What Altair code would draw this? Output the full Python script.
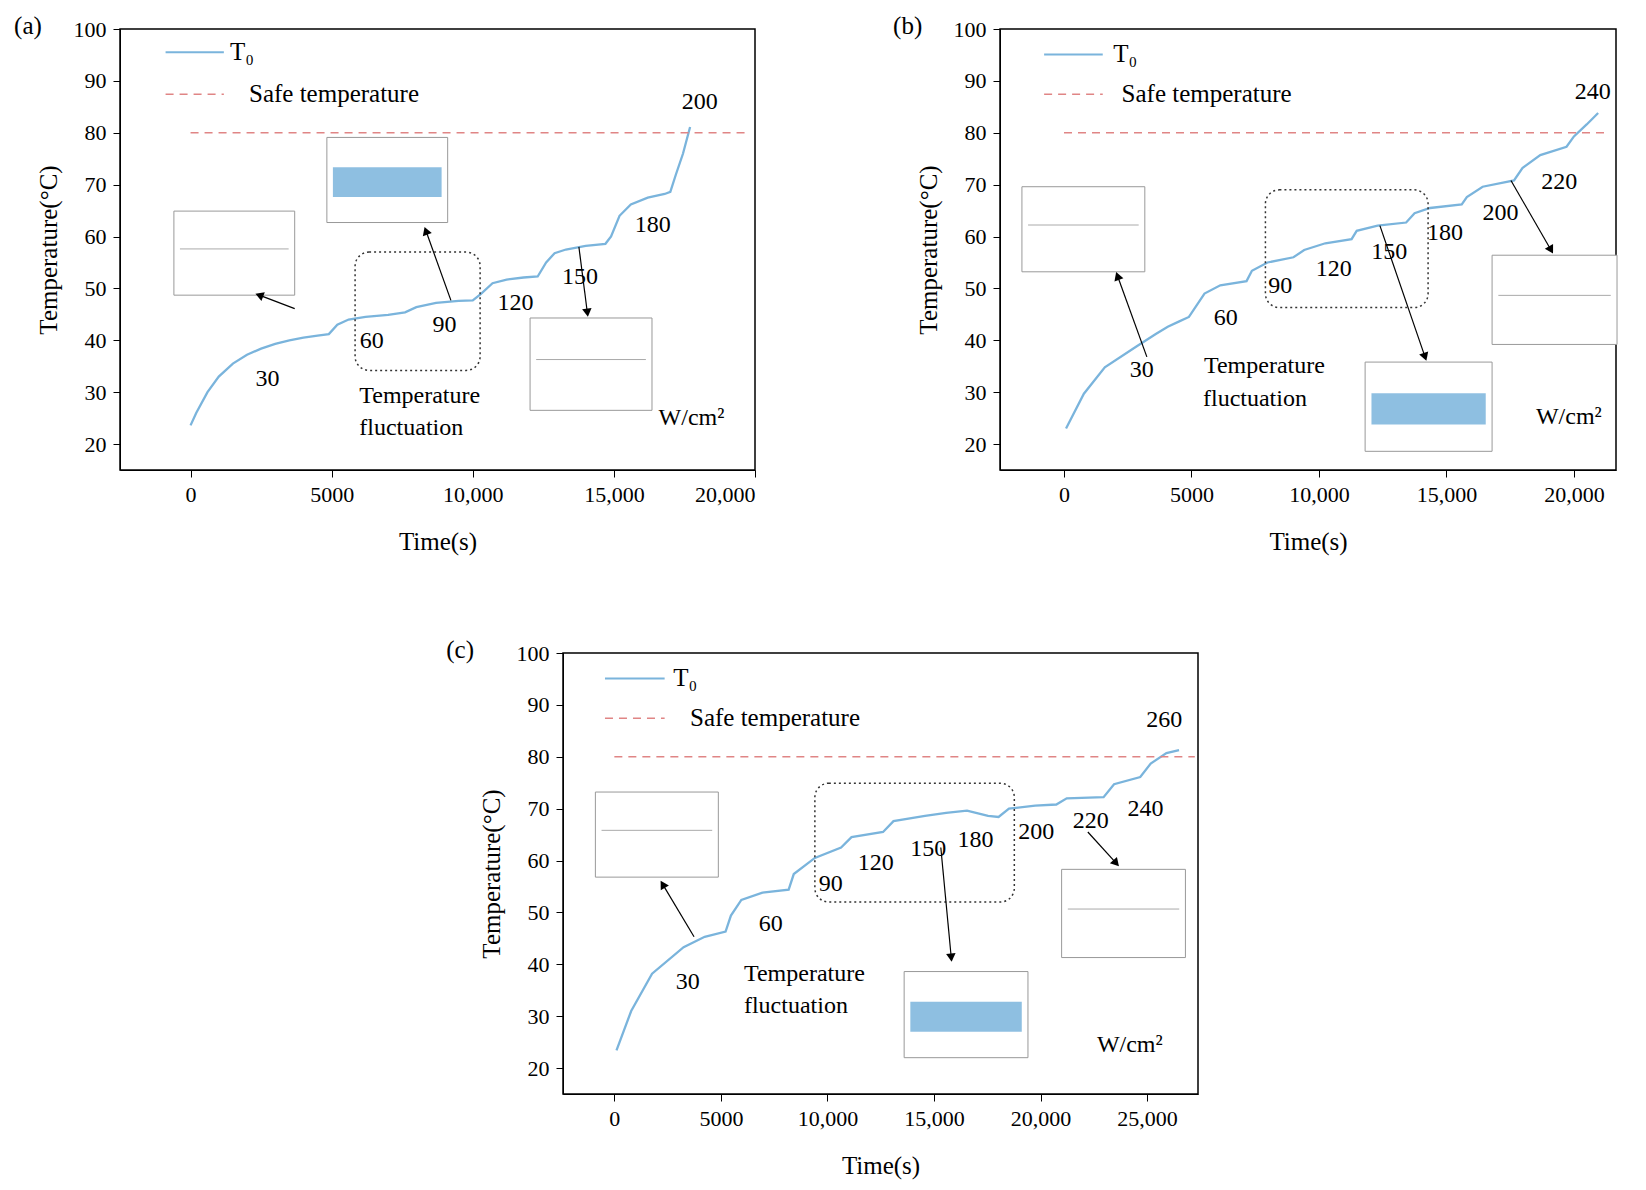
import math
import pandas as pd
import altair as alt

FONT = "Liberation Serif"
LINE = "#7ab4dc"
SAFE = "#e08585"

# ---------------- panel (a) ----------------
a_t = [0, 200, 600, 1000, 1500, 2000, 2500, 3000, 3500, 4000, 4500, 4900, 5200, 5600, 6200, 7000,
       7600, 8000, 8700, 9500, 10000, 10300, 10700, 11200, 11800, 12300, 12600, 12900, 13300, 14000,
       14700, 14900, 15200, 15600, 16200, 16800, 17000, 17200, 17450, 17700]
a_T = [23.6, 26, 30, 33, 35.5, 37.2, 38.4, 39.3, 40, 40.5, 40.9, 41.2, 43, 44, 44.5, 44.9,
       45.4, 46.4, 47.2, 47.6, 47.7, 49, 51, 51.7, 52.1, 52.3, 55, 56.8, 57.5, 58.2,
       58.6, 60, 64, 66.2, 67.5, 68.2, 68.6, 72, 76, 81.1]
a_labels = ["30", "60", "90", "120", "150", "180", "200", "W/cm²", "Temperature", "fluctuation"]
a_lab_t = [2730, 6420, 9000, 11510, 13800, 16380, 18040, 17750, 8120, 7820]
a_lab_T = [32.5, 39.8, 42.9, 47.1, 52.2, 62.3, 86, 25, 29.3, 23]
a_box = [5830, 10260, 34.2, 57.0]
a_insets = [[-590, 3690, 48.7, 64.9, 0], [4830, 9110, 62.7, 79.1, 1], [12030, 16350, 26.5, 44.3, 0]]
a_arrows = [[3690, 46.1, 2435, 48.7], [9225, 47.7, 8340, 61.1], [13760, 58, 14060, 45.3]]
a_legend = [-885, 1180, 95.5, 87.4, 1400, 2070]

# ---------------- panel (b) ----------------
b_t = [80, 780, 1600, 2840, 3600, 4070, 4500, 4900, 5510, 6130, 7160, 7370, 7980, 9000, 9420,
       10250, 11280, 11480, 12300, 13420, 13750, 14360, 15600, 15800, 16420, 17650, 17980, 18680,
       19710, 20000, 20500, 20950]
b_T = [23, 29.7, 34.8, 38.8, 41.2, 42.6, 43.6, 44.5, 49, 50.6, 51.4, 53.4, 55, 56, 57.4,
       58.7, 59.5, 61.1, 62.1, 62.7, 64.5, 65.5, 66.2, 67.6, 69.6, 70.8, 73.2, 75.7,
       77.3, 79.3, 81.6, 83.8]
b_labels = ["30", "60", "90", "120", "150", "180", "200", "220", "240", "W/cm²", "Temperature", "fluctuation"]
b_lab_t = [3045, 6340, 8480, 10580, 12760, 14940, 17120, 19420, 20740, 19800, 7860, 7490]
b_lab_T = [34.2, 44.3, 50.4, 53.8, 57, 60.7, 64.5, 70.6, 87.8, 25.3, 35, 28.7]
b_box = [7900, 14280, 46.3, 69]
b_insets = [[-1650, 3170, 53.2, 69.6, 0], [11810, 16790, 18.6, 35.8, 1], [16790, 21690, 39.2, 56.4, 0]]
b_arrows = [[3250, 36.8, 2100, 52.4], [12390, 62.1, 14160, 36.8], [17530, 70.8, 19100, 57.4]]
b_legend = [-780, 1520, 95.1, 87.4, 1930, 2260]

# ---------------- panel (c) ----------------
c_t = [100, 790, 1770, 3250, 4240, 5220, 5470, 5960, 6950, 8180, 8420, 9410, 10640, 11130, 12610,
       13100, 14580, 15570, 16550, 17540, 18030, 18520, 19750, 20740, 21230, 22960, 23450, 24680,
       25170, 25910, 26500]
c_T = [23.4, 31, 38.2, 43.3, 45.3, 46.3, 49.4, 52.4, 53.8, 54.4, 57.4, 60.5, 62.5, 64.5, 65.5,
       67.6, 68.6, 69.2, 69.6, 68.6, 68.4, 70, 70.6, 70.8, 72, 72.2, 74.7, 76.1,
       78.7, 80.7, 81.3]
c_labels = ["30", "60", "90", "120", "150", "180", "200", "220", "240", "260", "W/cm²", "Temperature", "fluctuation"]
c_lab_t = [3450, 7340, 10150, 12270, 14730, 16950, 19800, 22360, 24930, 25810, 24190, 8920, 8520]
c_lab_T = [36.6, 47.7, 55.4, 59.5, 62.3, 63.9, 65.5, 67.6, 70, 87, 24.5, 38.2, 31.9]
c_box = [9410, 18770, 52, 74.9]
c_insets = [[-890, 4880, 56.8, 73.2, 0], [13600, 19410, 22, 38.6, 1], [20990, 26800, 41.3, 58.3, 0]]
c_arrows = [[3740, 45.3, 2270, 55.4], [15320, 62.5, 15810, 41.3], [22220, 65.5, 23550, 59.5]]
c_legend = [-440, 2360, 95.1, 87.4, 2760, 3550]


def panel(t, T, xdom, xticks, safe_end, labels, lab_t, lab_T, box, insets, arrows, legend,
          tag, tag_t, width, height=441):
    kx = width / (xdom[1] - xdom[0])
    ky = height / 85.0
    xs = alt.Scale(domain=xdom, nice=False, zero=False)
    ys = alt.Scale(domain=[15, 100], nice=False, zero=False)
    xa = alt.Axis(values=xticks, grid=False, labelFont=FONT, labelFontSize=22, labelColor="black",
                  tickColor="black", tickSize=7, labelPadding=7, titleFont=FONT, titleFontSize=25,
                  titleFontWeight="normal", titlePadding=24, domainColor="black",
                  labelExpr="datum.value >= 10000 ? format(datum.value, ',') : format(datum.value, 'd')")
    ya = alt.Axis(values=list(range(20, 101, 10)), grid=False, labelFont=FONT, labelFontSize=22,
                  labelColor="black", tickColor="black", tickSize=7, labelPadding=7, titleFont=FONT,
                  titleFontSize=25, titleFontWeight="normal", titlePadding=12, domainColor="black")
    X = lambda f, **k: alt.X(f, type="quantitative", scale=xs, **k)
    Y = lambda f, **k: alt.Y(f, type="quantitative", scale=ys, **k)

    curve_df = pd.DataFrame({"t": t, "T": T, "i": range(len(t))})
    curve = alt.Chart(curve_df).mark_line(color=LINE, strokeWidth=2.3).encode(
        x=X("t", axis=xa, title="Time(s)"), y=Y("T", axis=ya, title="Temperature(°C)"), order="i")

    safe = alt.Chart(pd.DataFrame({"a": [0], "b": [safe_end], "y": [80]})).mark_rule(
        color=SAFE, strokeDash=[8, 6], strokeWidth=1.5).encode(x=X("a"), x2="b", y=Y("y"))

    ins_df = pd.DataFrame(insets, columns=["x1", "x2", "y1", "y2", "blue"])
    ins = alt.Chart(ins_df).mark_rect(fill="white", stroke="#999", strokeWidth=1).encode(
        x=X("x1"), x2="x2", y=Y("y1"), y2="y2")
    ins_df["m1"] = ins_df.x1 + (ins_df.x2 - ins_df.x1) * 0.05
    ins_df["m2"] = ins_df.x2 - (ins_df.x2 - ins_df.x1) * 0.05
    ins_df["b1"] = ins_df.y1 + (ins_df.y2 - ins_df.y1) * 0.3
    ins_df["b2"] = ins_df.y1 + (ins_df.y2 - ins_df.y1) * 0.65
    ins_df["mid"] = ins_df.y1 + (ins_df.y2 - ins_df.y1) * 0.55
    band = alt.Chart(ins_df[ins_df.blue == 1]).mark_rect(fill=LINE, opacity=0.85).encode(
        x=X("m1"), x2="m2", y=Y("b1"), y2="b2")
    thin = alt.Chart(ins_df[ins_df.blue == 0]).mark_rule(color="#aaa", strokeWidth=1).encode(
        x=X("m1"), x2="m2", y=Y("mid"))

    bx = alt.Chart(pd.DataFrame({"x1": [box[0]], "x2": [box[1]], "y1": [box[2]], "y2": [box[3]]})).mark_rect(
        fill=None, stroke="#333", strokeDash=[2, 3], strokeWidth=1.5, cornerRadius=14).encode(
        x=X("x1"), x2="x2", y=Y("y1"), y2="y2")

    ar_df = pd.DataFrame(arrows, columns=["x1", "y1", "x2", "y2"])
    ar_df["ang"] = [math.degrees(math.atan2((r.x2 - r.x1) * kx, (r.y2 - r.y1) * ky)) % 360
                    for r in ar_df.itertuples()]
    ar = alt.Chart(ar_df).mark_rule(color="black", strokeWidth=1.2).encode(
        x=X("x1"), y=Y("y1"), x2="x2", y2="y2")
    heads = alt.Chart(ar_df).mark_point(shape="triangle-up", filled=True, color="black", size=90,
                                        opacity=1).encode(x=X("x2"), y=Y("y2"), angle=alt.Angle("ang:Q", scale=None))

    lab = alt.Chart(pd.DataFrame({"s": labels, "x": lab_t, "y": lab_T})).mark_text(
        font=FONT, fontSize=24, color="black").encode(x=X("x"), y=Y("y"), text="s")

    leg = pd.DataFrame({"x1": [legend[0]], "x2": [legend[1]], "y1": [legend[2]], "y2": [legend[3]],
                        "tx1": [legend[4]], "tx2": [legend[5]]})
    l1 = alt.Chart(leg).mark_rule(color=LINE, strokeWidth=2).encode(x=X("x1"), x2="x2", y=Y("y1"))
    l2 = alt.Chart(leg).mark_rule(color=SAFE, strokeDash=[8, 6], strokeWidth=1.5).encode(
        x=X("x1"), x2="x2", y=Y("y2"))
    lt1 = alt.Chart(leg).mark_text(text="T₀", font=FONT, fontSize=25, align="left", color="black").encode(
        x=X("tx1"), y=Y("y1"))
    lt2 = alt.Chart(leg).mark_text(text="Safe temperature", font=FONT, fontSize=25, align="left",
                                   baseline="top", color="black", dy=-12).encode(x=X("tx2"), y=Y("y2"))
    tg = alt.Chart(pd.DataFrame({"s": [tag], "x": [tag_t], "y": [100.5]})).mark_text(
        font=FONT, fontSize=25, color="black").encode(x=X("x"), y=Y("y"), text="s")

    return alt.layer(curve, safe, ins, band, thin, bx, ar, heads, lab, l1, l2, lt1, lt2, tg).properties(
        width=width, height=height, view=alt.ViewBackground(stroke="black", strokeWidth=1.5))


pa = panel(a_t, a_T, [-2500, 20000], [0, 5000, 10000, 15000, 20000], 19700, a_labels, a_lab_t, a_lab_T,
           a_box, a_insets, a_arrows, a_legend, "(a)", -5760, 635)
pb = panel(b_t, b_T, [-2510, 21650], [0, 5000, 10000, 15000, 20000], 21350, b_labels, b_lab_t, b_lab_T,
           b_box, b_insets, b_arrows, b_legend, "(b)", -6130, 616)
pc = panel(c_t, c_T, [-2410, 27390], [0, 5000, 10000, 15000, 20000, 25000], 27240, c_labels, c_lab_t,
           c_lab_T, c_box, c_insets, c_arrows, c_legend, "(c)", -7240, 635)

spacer = alt.Chart(pd.DataFrame({"x": [0]})).mark_point(opacity=0).encode(
    x=alt.X("x:Q", axis=None), y=alt.Y("x:Q", axis=None)).properties(
    width=315, height=1, view=alt.ViewBackground(stroke=None))

chart = alt.vconcat(
    alt.hconcat(pa, pb, spacing=135),
    alt.hconcat(spacer, pc, spacing=10),
    spacing=82,
).properties(padding={"left": 5, "top": 5, "right": 5, "bottom": 5}).configure(
    background="white").configure_view(stroke=None)

chart.save("out.html", embed_options={"renderer": "svg", "actions": False})
